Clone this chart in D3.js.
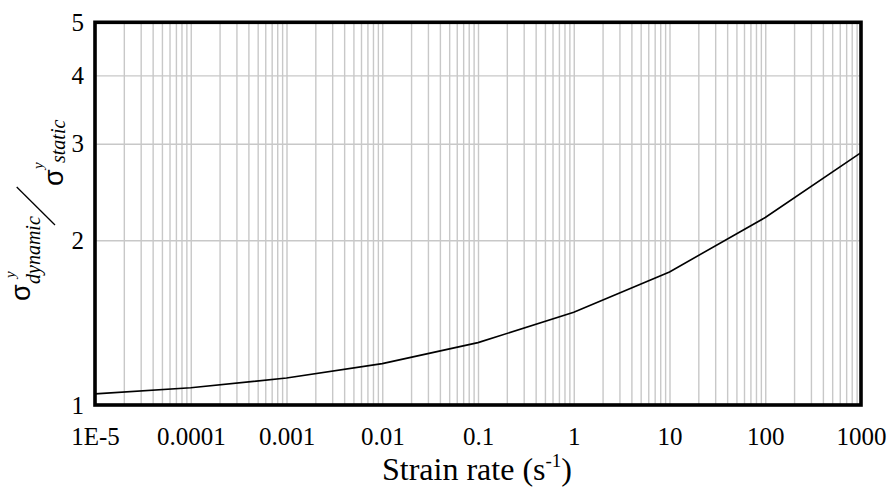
<!DOCTYPE html>
<html>
<head>
<meta charset="utf-8">
<script src="https://cdn.jsdelivr.net/npm/d3@7"></script>
<style>
  body { margin: 0; background: #fff; }
  svg text { font-family: "Liberation Serif", "Times New Roman", serif; fill: #000; }
  .grid line { stroke: #c8c8c8; stroke-width: 1.4px; }
  .grid path { display: none; }
</style>
</head>
<body>
<script>
// data
var strainRate = [1e-5, 1e-4, 1e-3, 1e-2, 0.1, 1, 10, 100, 1000];
var stressRatio = [1.048, 1.075, 1.12, 1.19, 1.30, 1.477, 1.75, 2.20, 2.89];

var xTickValues = [1e-5, 1e-4, 1e-3, 1e-2, 0.1, 1, 10, 100, 1000];
var xTickLabels = ["1E-5", "0.0001", "0.001", "0.01", "0.1", "1", "10", "100", "1000"];
var yTickValues = [1, 2, 3, 4, 5];
var yGridValues = [2, 3, 4];

var W = 894, H = 491;
var pLeft = 95, pRight = 861, pTop = 22.3, pBottom = 405;
var serif = '"Liberation Serif", "Times New Roman", serif';

var svg = d3.select('body').append('svg')
  .attr('width', W).attr('height', H);

var xScale = d3.scaleLog().domain([1e-5, 1000]).range([pLeft, pRight]);
var yScale = d3.scaleLog().domain([1, 5]).range([pBottom, pTop]);

// minor grid values 1..9 per decade
var xGridValues = [];
xTickValues.slice(0, -1).forEach(function(d){
  for(var k = 1; k <= 9; k++) xGridValues.push(d * k);
});

// grid
svg.append('g').attr('class', 'grid')
  .attr('transform', 'translate(0,' + pBottom + ')')
  .call(d3.axisBottom(xScale).tickValues(xGridValues)
    .tickSize(-(pBottom - pTop)).tickFormat(''));
svg.append('g').attr('class', 'grid')
  .attr('transform', 'translate(' + pLeft + ',0)')
  .call(d3.axisLeft(yScale).tickValues(yGridValues)
    .tickSize(-(pRight - pLeft)).tickFormat(''));

// curve
var pts = strainRate.map(function(d, i){ return {x: d, y: stressRatio[i]}; });
svg.append('path').datum(pts)
  .attr('fill', 'none').attr('stroke', '#000').attr('stroke-width', 1.6)
  .attr('d', d3.line().x(function(d){ return xScale(d.x); })
    .y(function(d){ return yScale(d.y); }));

// frame
svg.append('rect')
  .attr('x', pLeft).attr('y', pTop)
  .attr('width', pRight - pLeft).attr('height', pBottom - pTop)
  .attr('fill', 'none').attr('stroke', '#000').attr('stroke-width', 3.6);

// x tick labels
var xAxis = svg.append('g')
  .attr('transform', 'translate(0,' + pBottom + ')')
  .call(d3.axisBottom(xScale).tickValues(xTickValues).tickSize(0).tickPadding(0)
    .tickFormat(function(d, i){ return xTickLabels[i]; }));
xAxis.select('.domain').remove();
xAxis.selectAll('text')
  .attr('y', 40).attr('dy', 0)
  .style('font-family', serif).style('font-size', '25px');

// y tick labels
var yAxis = svg.append('g')
  .attr('transform', 'translate(' + pLeft + ',0)')
  .call(d3.axisLeft(yScale).tickValues(yTickValues).tickSize(0).tickPadding(11)
    .tickFormat(d3.format('d')));
yAxis.select('.domain').remove();
yAxis.selectAll('text')
  .style('font-family', serif).style('font-size', '25px');

// x title
var xt = svg.append('text')
  .attr('x', 477).attr('y', 480).attr('text-anchor', 'middle')
  .style('font-family', serif).style('font-size', '32px');
xt.append('tspan').text('Strain rate (s');
xt.append('tspan').attr('dy', -13).style('font-size', '19px').text('-1');
xt.append('tspan').attr('dy', 13).text(')');

// y title, fraction sigma_dynamic / sigma_static
var yt = svg.append('g').attr('transform', 'rotate(-90)');
yt.append('text').attr('x', -301).attr('y', 30)
  .style('font-family', '"Liberation Sans", sans-serif').style('font-size', '27px').text('σ');
yt.append('text').attr('x', -278).attr('y', 15)
  .style('font-family', serif).style('font-style', 'italic').style('font-size', '15px').text('y');
yt.append('text').attr('x', -284).attr('y', 40)
  .style('font-family', serif).style('font-style', 'italic').style('font-size', '20px').text('dynamic');
yt.append('text').attr('x', -186).attr('y', 63)
  .style('font-family', '"Liberation Sans", sans-serif').style('font-size', '27px').text('σ');
yt.append('text').attr('x', -169).attr('y', 42.5)
  .style('font-family', serif).style('font-style', 'italic').style('font-size', '15px').text('y');
yt.append('text').attr('x', -163).attr('y', 65)
  .style('font-family', serif).style('font-style', 'italic').style('font-size', '20px').text('static');
svg.append('line')
  .attr('x1', 16.7).attr('y1', 187).attr('x2', 55).attr('y2', 225)
  .attr('stroke', '#000').attr('stroke-width', 1.3);
</script>
</body>
</html>
